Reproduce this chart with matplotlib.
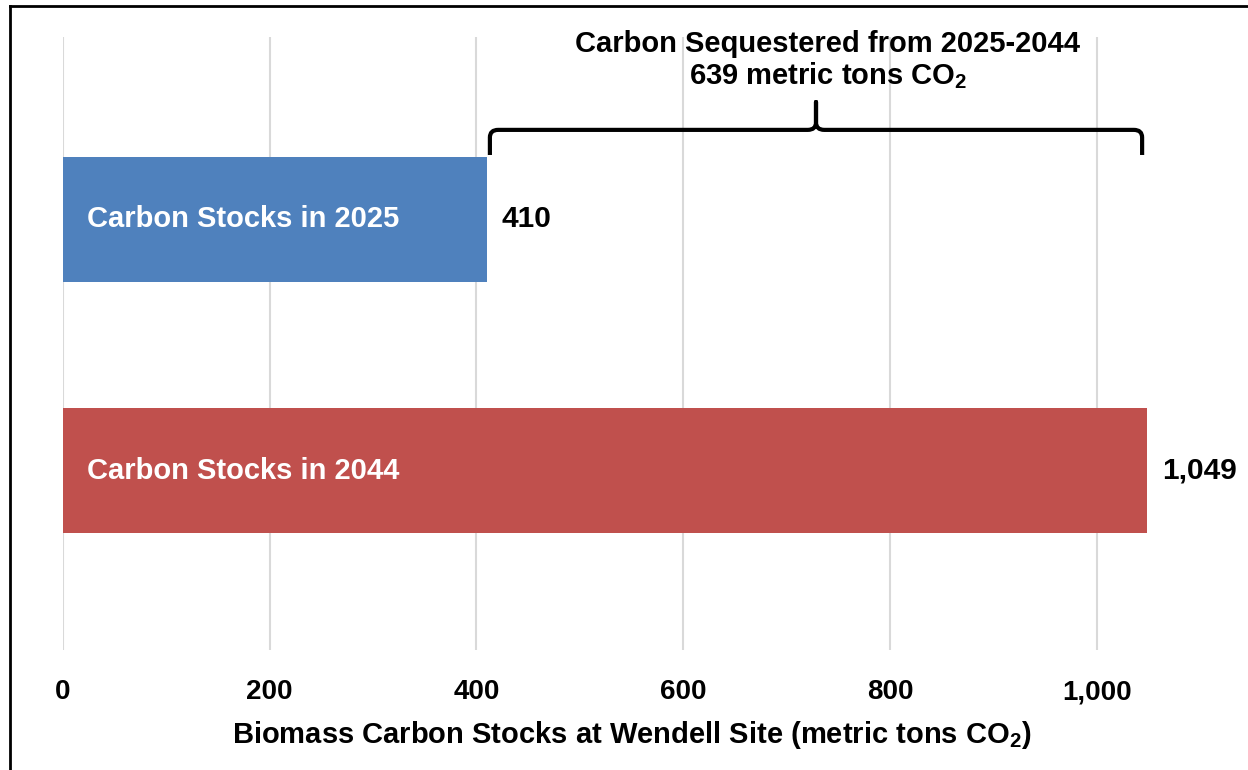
import matplotlib
matplotlib.use('Agg')
import matplotlib.pyplot as plt
from matplotlib.lines import Line2D
from matplotlib.path import Path
from matplotlib.patches import PathPatch

labels = ['Carbon Stocks in 2025', 'Carbon Stocks in 2044']
values = [410, 1049]
colors = ['#4F81BD', '#C0504D']
xticks = [0, 200, 400, 600, 800, 1000]
note_lines = ['Carbon Sequestered from 2025-2044', '639 metric tons CO$_2$']
xlabel = 'Biomass Carbon Stocks at Wendell Site (metric tons CO$_2$)'

fam = ['Liberation Sans', 'DejaVu Sans']
plt.rcParams['mathtext.fontset'] = 'custom'
plt.rcParams['mathtext.bf'] = 'Liberation Sans:bold'
plt.rcParams['mathtext.rm'] = 'Liberation Sans:bold'
plt.rcParams['mathtext.default'] = 'bf'

fig = plt.figure(figsize=(12.48, 7.7), dpi=100)
ax = fig.add_axes([63/1248, 120/770, 1137/1248, 613/770])

y = list(range(len(values)))
ax.barh(y, values, height=0.5, color=colors, zorder=2)
ax.set_ylim(1.715, -0.727)
ax.set_xlim(0, 1100)
ax.set_xticks(xticks)
ax.set_xticklabels([f'{t:,}' for t in xticks], fontfamily=fam,
                   fontweight='bold', fontsize=20)
ax.tick_params(axis='x', length=0, pad=21)
ax.set_yticks([])
ax.grid(axis='x', color='#D9D9D9', linewidth=1.5, zorder=0)
for s in ax.spines.values():
    s.set_visible(False)

# labels inside and values outside the bars
for yi, lab, v in zip(y, labels, values):
    ax.text(23, yi, lab, color='white', fontweight='bold', fontsize=21,
            fontfamily=fam, va='center', ha='left', zorder=3)
    ax.text(v + 14, yi, f'{v:,}', color='black', fontweight='bold', fontsize=21.5,
            fontfamily=fam, va='center', ha='left', zorder=3)

# curly brace over the difference
x0, x1 = values[0] + 3, values[1] - 5
xm = (x0 + x1) / 2
yh, yend, ytip = -0.357, -0.257, -0.468
r, ry = 8, 0.03
verts = [(x0, yend), (x0, yh + ry), (x0, yh), (x0 + r, yh),
         (xm - r, yh), (xm, yh), (xm, yh - ry), (xm, ytip),
         (xm, yh - ry), (xm, yh), (xm + r, yh),
         (x1 - r, yh), (x1, yh), (x1, yh + ry), (x1, yend)]
codes = [Path.MOVETO, Path.LINETO, Path.CURVE3, Path.CURVE3,
         Path.LINETO, Path.CURVE3, Path.CURVE3, Path.LINETO,
         Path.LINETO, Path.CURVE3, Path.CURVE3,
         Path.LINETO, Path.CURVE3, Path.CURVE3, Path.LINETO]
ax.add_patch(PathPatch(Path(verts, codes), fill=False, lw=3, color='black',
                       capstyle='butt', joinstyle='round', zorder=4, clip_on=False))

ax.text(740, -0.700, note_lines[0], fontfamily=fam, fontweight='bold',
        fontsize=21, ha='center', va='center')
ax.text(740, -0.575, note_lines[1], fontfamily=fam, fontweight='bold',
        fontsize=21, ha='center', va='center')

fig.text(632/1248, 1 - 735/770, xlabel, fontfamily=fam, fontweight='bold',
         fontsize=21, ha='center', va='center')

# frame edges
fig.add_artist(Line2D([9.5/1248, 1], [1 - 5.5/770, 1 - 5.5/770],
                      transform=fig.transFigure, color='black', lw=2))
fig.add_artist(Line2D([9.5/1248, 9.5/1248], [0, 1 - 5.5/770],
                      transform=fig.transFigure, color='black', lw=2))

fig.savefig('out.png', dpi=100)
